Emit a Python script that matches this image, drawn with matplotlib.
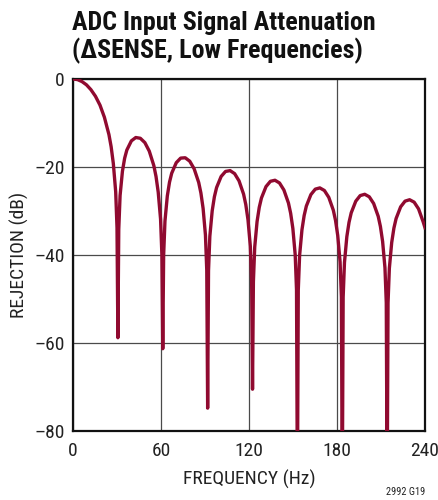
import matplotlib
matplotlib.use("Agg")
import matplotlib.pyplot as plt
from matplotlib import font_manager

# Values (frequency in Hz, rejection in dB)
freq_main = [0, 3.1, 6.1, 9.2, 12.2, 15.3, 18.4, 21.4, 24.5, 26.0, 27.5, 29.1, 30.0]
rej_main = [0, -0.14, -0.58, -1.33, -2.42, -3.92, -5.94, -8.69, -12.63, -15.39, -19.23, -25.61, -33.81]

null_freq = [30.6, 61.2, 91.8, 122.4, 153.0, 183.6, 214.2]
null_depth = [-58.8, -61.3, -74.8, -70.5, -95.0, -95.0, -95.0]

lobe_freq = [
    [31.2, 32.1, 33.7, 35.2, 36.7, 39.8, 42.8, 45.9, 49.0, 52.0, 55.1, 56.6, 58.1, 59.7, 60.6],
    [61.8, 62.7, 64.3, 65.8, 67.3, 70.4, 73.4, 76.5, 79.6, 82.6, 85.7, 87.2, 88.7, 90.3, 91.2],
    [92.4, 93.3, 94.9, 96.4, 97.9, 101.0, 104.0, 107.1, 110.2, 113.2, 116.3, 117.8, 119.3, 120.9, 121.8],
    [123.0, 123.9, 125.5, 127.0, 128.5, 131.6, 134.6, 137.7, 140.8, 143.8, 146.9, 148.4, 149.9, 151.5, 152.4],
    [153.6, 154.5, 156.1, 157.6, 159.1, 162.2, 165.2, 168.3, 171.4, 174.4, 177.5, 179.0, 180.5, 182.1, 183.0],
    [184.2, 185.1, 186.7, 188.2, 189.7, 192.8, 195.8, 198.9, 202.0, 205.0, 208.1, 209.6, 211.1, 212.7, 213.6],
    [214.8, 215.7, 217.3, 218.8, 220.3, 223.4, 226.4, 229.5, 232.6, 235.6, 238.7, 240.0],
]
lobe_rej = [
    [-34.16, -26.48, -20.97, -18.02, -16.15, -14.06, -13.30, -13.47, -14.46, -16.39, -19.67, -22.15, -25.72, -31.85, -39.92],
    [-40.09, -32.29, -26.59, -23.45, -21.41, -19.02, -17.98, -17.90, -18.68, -20.41, -23.51, -25.90, -29.39, -35.45, -43.47],
    [-43.58, -35.74, -29.97, -26.77, -24.67, -22.15, -21.01, -20.82, -21.51, -23.15, -26.16, -28.51, -31.96, -37.99, -45.98],
    [-46.07, -38.20, -32.40, -29.16, -27.03, -24.45, -23.25, -23.01, -23.63, -25.23, -28.19, -30.52, -33.95, -39.95, -47.93],
    [-48.00, -40.12, -34.29, -31.04, -28.88, -26.27, -25.03, -24.75, -25.34, -26.90, -29.83, -32.15, -35.56, -41.54, -49.52],
    [-49.58, -41.69, -35.85, -32.58, -30.41, -27.77, -26.50, -26.20, -26.77, -28.30, -31.21, -33.52, -36.92, -42.89, -50.86],
    [-50.91, -43.02, -37.17, -33.89, -31.71, -29.05, -27.76, -27.44, -27.99, -29.51, -32.41, -33.80],
]

x_ticks = [0, 60, 120, 180, 240]
y_ticks = [0, -20, -40, -60, -80]
y_tick_labels = ["0", "\u201320", "\u201340", "\u201360", "\u201380"]

# assemble the curve
freq = list(freq_main)
rej = list(rej_main)
for nf, nd, lf, lr in zip(null_freq, null_depth, lobe_freq, lobe_rej):
    freq.append(nf)
    rej.append(nd)
    freq.extend(lf)
    rej.extend(lr)

available = {f.name for f in font_manager.fontManager.ttflist}
main_font = "DejaVu Sans"
for cand in ["Roboto Condensed", "Liberation Sans Narrow", "Archivo Narrow", "Barlow Semi Condensed"]:
    if cand in available:
        main_font = cand
        break
fam = [main_font, "DejaVu Sans"]
plt.rcParams["font.family"] = fam

fig = plt.figure(figsize=(4.39, 5.0), dpi=100)
ax = fig.add_axes([0.1663, 0.138, 0.8018, 0.704])

ax.plot(freq, rej, color="#900A30", lw=2.4, solid_joinstyle="round", zorder=3)

ax.set_xlim(0, 240)
ax.set_ylim(-80, 0)
ax.set_xticks(x_ticks)
ax.set_xticklabels([str(t) for t in x_ticks])
ax.set_yticks(y_ticks)
ax.set_yticklabels(y_tick_labels)
ax.tick_params(length=0, labelsize=14, colors="#222222")
ax.tick_params(axis="x", pad=8)
ax.tick_params(axis="y", pad=6)
ax.grid(True, color="#4a4a4a", lw=0.9)
for s in ax.spines.values():
    s.set_linewidth(1.6)
    s.set_color("#111111")

ax.set_xlabel("FREQUENCY (Hz)", fontsize=14, color="#222222", labelpad=7)
ax.set_ylabel("REJECTION (dB)", fontsize=14, color="#222222", labelpad=4)

fig.text(0.164, 0.978, "ADC Input Signal Attenuation\n(\u0394SENSE, Low Frequencies)",
         ha="left", va="top", fontsize=18.7, fontweight="bold", linespacing=1.15,
         color="#111111")
fig.text(0.968, 0.006, "2992 G19", ha="right", va="bottom", fontsize=7.5, color="#222222")

fig.savefig("out.png", dpi=100)
